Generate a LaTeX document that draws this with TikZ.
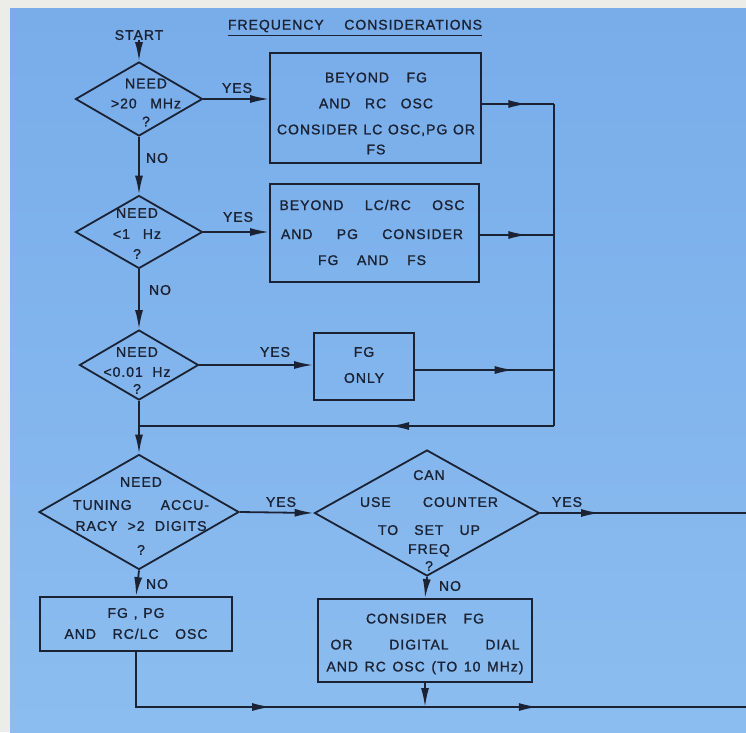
\documentclass[tikz,border=0pt]{standalone}
\usepackage{fontspec}
\newfontfamily\letterface{Liberation Sans}[LetterSpace=7,FakeBold=1.2]
\usepackage{xcolor}
\usepackage{tikz}
\usetikzlibrary{shapes,arrows.meta,positioning,decorations.markings}
\definecolor{paperTop}{HTML}{78ADEA}
\definecolor{paperBot}{HTML}{8CBDF0}
\definecolor{margin}{HTML}{ECECE8}
\definecolor{ink}{HTML}{1B2233}
\newcommand\lettering{\letterface\fontsize{14}{20}\selectfont}
\newcommand\spanto[2]{\makebox[#1pt][s]{#2}}
\tikzset{
  >={Latex[length=19pt,width=8pt]},
  flow/.style={draw=ink, line width=1.8pt},
  decision/.style={diamond, draw=ink, line width=1.8pt, inner sep=0pt},
  box/.style={rectangle, draw=ink, line width=1.8pt, inner sep=0pt},
  word/.style={inner sep=0pt, align=center, font=\lettering, text=ink},
  midtip/.style={postaction={decorate, decoration={markings, mark=at position #1 with {\arrow[ink]{>}}}}}
}

\begin{document}
\begin{tikzpicture}[x=1pt,y=-1pt]
  \fill[margin] (0,0) rectangle (746,732);
  \shade[top color=paperTop, bottom color=paperBot] (10,8) rectangle (746,732);
  \useasboundingbox (0,0) rectangle (746,732);

  \node[word] (start) at (139,35) {START};
  \node[word] (title) at (355,26) {\spanto{254}{FREQUENCY CONSIDERATIONS}};
  \draw[ink, line width=1.2pt] ([yshift=-3pt]title.south west) -- ([yshift=-3pt]title.south east);

  \node[decision, minimum width=127pt, minimum height=74pt] (d1) at (139,99) {};
  \node[word] (d1t) at (146,102.5) {NEED\\\spanto{70}{>20 MHz}\\[-2pt]?};
  \node[decision, minimum width=127pt, minimum height=73pt] (d2) at (139,232) {};
  \node[word] (d2t) at (137,233.5) {NEED\\[1pt]\spanto{48}{<1 Hz}\\?};
  \node[decision, minimum width=119pt, minimum height=70pt] (d3) at (139,365) {};
  \node[word] (d3t) at (137,370.5) {NEED\\\spanto{67}{<0.01 Hz}\\[-3pt]?};
  \node[decision, minimum width=200pt, minimum height=115pt] (d4) at (139,512) {};
  \node[word] (d4t) at (141,516) {NEED\\[3pt]\spanto{136}{TUNING ACCU-}\\[1pt]\spanto{131}{RACY >2 DIGITS}\\[4pt]?};
  \node[decision, minimum width=225pt, minimum height=126pt] (d5) at (427,513) {};
  \node[word] (d5t) at (429,520.5) {CAN\\[7pt]\spanto{138}{USE COUNTER}\\[8pt]\spanto{102}{TO SET UP}\\[-1pt]FREQ\\[-3pt]?};

  \node[box, minimum width=211pt, minimum height=110pt] (b1) at (375.5,108) {};
  \node[word] (b1t) at (376,113.5) {\spanto{102}{BEYOND FG}\\[6pt]\spanto{114}{AND RC OSC}\\[6pt]\spanto{198}{CONSIDER LC OSC,PG OR}\\FS};
  \node[box, minimum width=209pt, minimum height=98pt] (b2) at (374.5,233) {};
  \node[word] (b2t) at (372,232.5) {\spanto{185}{BEYOND LC/RC OSC}\\[9pt]\spanto{182}{AND PG CONSIDER}\\[6pt]\spanto{108}{FG AND FS}};
  \node[box, minimum width=100pt, minimum height=67pt] (b3) at (364,366.5) {};
  \node[word] (b3t) at (364,365) {FG\\[6pt]ONLY};
  \node[box, minimum width=192pt, minimum height=54pt] (b4) at (136,624) {};
  \node[word] (b4t) at (136,623.5) {\spanto{57}{FG , PG}\\[1pt]\spanto{143}{AND RC/LC OSC}};
  \node[box, minimum width=214pt, minimum height=83pt] (b5) at (425,640.5) {};
  \node[word] (b5t) at (425,644) {\spanto{118}{CONSIDER FG}\\[6pt]\spanto{189}{OR DIGITAL DIAL}\\[2pt]\spanto{197}{AND RC OSC (TO 10 MHz)}};

  \node[word] (yes1) at (237,88) {YES};
  \node[word] (no1) at (157,158) {NO};
  \node[word] (yes2) at (238,217) {YES};
  \node[word] (no2) at (160,290) {NO};
  \node[word] (yes3) at (275,352) {YES};
  \node[word] (yes4) at (281,502) {YES};
  \node[word] (yes5) at (567,502) {YES};
  \node[word] (no4) at (157,584) {NO};
  \node[word] (no5) at (450,586) {NO};

  \coordinate (bus1) at (554,104);
  \coordinate (bus2) at (554,235);
  \coordinate (bus3) at (554,370);
  \coordinate (bus4) at (554,426);
  \coordinate (j3) at (139,426);
  \coordinate (out5) at (746,513);
  \coordinate (out6) at (746,707);

  \draw[flow,->] (start) -- (d1.north);
  \draw[flow,->] (d1.east) -- (d1.east -| b1.west);
  \draw[flow,->] (d1.south) -- (d2.north);
  \draw[flow,->] (d2.east) -- (d2.east -| b2.west);
  \draw[flow,->] (d2.south) -- (d3.north);
  \draw[flow,->] (d3.east) -- (d3.east -| b3.west);
  \draw[flow,->] (d3.south) -- (d4.north);
  \draw[flow,->] (d4.east) -- (d5.west);
  \draw[flow,->] (d4.south) -- (b4.north);
  \draw[flow,->] (d5.south) -- (b5.north);

  \draw[flow,midtip=0.63] (b1.east |- bus1) -- (bus1);
  \draw[flow,midtip=0.64] (b2.east |- bus2) -- (bus2);
  \draw[flow,midtip=0.71] (b3.east |- bus3) -- (bus3);
  \draw[flow] (bus1) -- (bus4);
  \draw[flow,midtip=0.395] (bus4) -- (j3);
  \draw[flow,midtip=0.29] (d5.east) -- (out5);
  \draw[flow,midtip=0.286,midtip=0.687] (b4.south) -- (b4.south |- out6) -- (out6);
  \draw[flow,->] (b5.south) -- (b5.south |- out6);
\end{tikzpicture}
\end{document}
